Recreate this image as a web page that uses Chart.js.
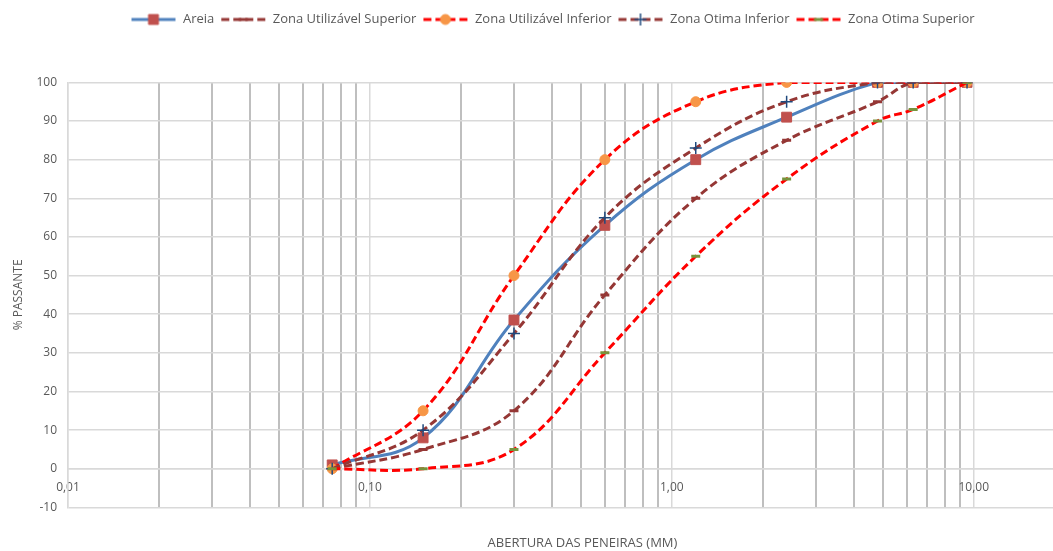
<!DOCTYPE html>
<html>
<head>
<meta charset="utf-8">
<script src="https://cdn.jsdelivr.net/npm/chart.js@4/dist/chart.umd.min.js"></script>
<style>
  html, body { margin: 0; padding: 0; background: #fff; }
  #wrap { width: 1053px; height: 551px; }
</style>
</head>
<body>
<div id="wrap"><canvas id="grafico"></canvas></div>
<script>
// aberturas das peneiras (mm)
const aberturas = [0.075, 0.15, 0.3, 0.6, 1.2, 2.4, 4.8, 6.3, 9.5];

// % passante
const areia = [1, 8, 38.5, 63, 80, 91, 100, 100, 100];
const zonaUtilSuperior = [0, 5, 15, 45, 70, 85, 95, 100, 100];
const zonaUtilInferior = [0, 15, 50, 80, 95, 100, 100, 100, 100];
const zonaOtimaInferior = [0, 10, 35, 65, 83, 95, 100, 100, 100];
const zonaOtimaSuperior = [0, 0, 5, 30, 55, 75, 90, 93, 100];

const nomes = ['Areia', 'Zona Utilizável Superior', 'Zona Utilizável Inferior', 'Zona Otima Inferior', 'Zona Otima Superior'];

// ticks do eixo x (log), só as décadas têm rótulo
const decadas = [0.01, 0.1, 1, 10];
const yTicks = [-10, 0, 10, 20, 30, 40, 50, 60, 70, 80, 90, 100];

const AZUL = '#4F81BD';
const VERMELHO_ESC = '#C0504D';
const MARROM = '#953735';
const VERMELHO = '#FF0000';
const LARANJA = '#F79646';
const AZUL_ESC = '#1F497D';
const VERDE = '#77933C';
const CINZA = '#595959';
const FONTE = 'Open Sans';

function pontos(vals) {
  return aberturas.map((x, i) => ({ x: x, y: vals[i] }));
}

const estilos = [
  { data: areia, line: AZUL, dash: [], width: 3, ps: 'rect', pr: 7, pc: VERMELHO_ESC, pw: 1 },
  { data: zonaUtilSuperior, line: MARROM, dash: [8, 4], width: 3, ps: 'line', pr: 4.5, pc: MARROM, pw: 3 },
  { data: zonaUtilInferior, line: VERMELHO, dash: [8, 4], width: 3, ps: 'circle', pr: 5, pc: LARANJA, pw: 1 },
  { data: zonaOtimaInferior, line: MARROM, dash: [8, 4], width: 3, ps: 'cross', pr: 6, pc: AZUL_ESC, pw: 1.5 },
  { data: zonaOtimaSuperior, line: VERMELHO, dash: [8, 4], width: 3, ps: 'line', pr: 4.5, pc: VERDE, pw: 3 }
];

// símbolo da legenda: linha tracejada + marcador
function simbolo(e) {
  const c = document.createElement('canvas');
  c.width = 46; c.height = 14;
  const ctx = c.getContext('2d');
  ctx.strokeStyle = e.line;
  ctx.lineWidth = e.width;
  ctx.setLineDash(e.dash);
  ctx.beginPath();
  ctx.moveTo(1, 7); ctx.lineTo(45, 7);
  ctx.stroke();
  ctx.setLineDash([]);
  ctx.fillStyle = e.pc;
  ctx.strokeStyle = e.pc;
  ctx.lineWidth = e.pw;
  Chart.helpers.drawPoint(ctx, { pointStyle: e.ps, radius: e.pr, borderWidth: e.pw, rotation: 0 }, 23, 7);
  return c;
}

const imagens = estilos.map(simbolo);

const datasets = estilos.map((e, i) => ({
  label: nomes[i],
  data: pontos(e.data),
  borderColor: e.line,
  borderWidth: e.width,
  borderDash: e.dash,
  tension: 0.4,
  fill: false,
  pointStyle: e.ps,
  pointRadius: e.pr,
  pointHoverRadius: e.pr,
  pointBackgroundColor: e.pc,
  pointBorderColor: e.pc,
  pointBorderWidth: e.pw,
  order: -i
}));

// ticks do eixo x: 1..9 de cada década até 10
const xTicks = [];
for (let d = 0.01; d < 10; d *= 10) {
  for (let m = 1; m <= 9; m++) xTicks.push(+(m * d).toPrecision(3));
}
xTicks.push(10);

function ehDecada(v) {
  return decadas.some(d => Math.abs(d - v) < 1e-9);
}

// o gráfico original era mais largo (recortado à direita): desloca legenda e título
const deslocar = {
  id: 'deslocar',
  afterLayout(chart) {
    chart.legend.left += 26;
    chart.legend.right += 26;
    chart.titleBlock.left += 56;
    chart.titleBlock.right += 56;
  }
};

new Chart(document.getElementById('grafico'), {
  type: 'line',
  data: { datasets: datasets },
  plugins: [deslocar],
  options: {
    responsive: true,
    maintainAspectRatio: false,
    animation: false,
    layout: { autoPadding: false, padding: { left: 0, right: 0, top: 7, bottom: 0 } },
    plugins: {
      legend: {
        position: 'top',
        labels: {
          color: CINZA,
          font: { family: FONTE, size: 13 },
          usePointStyle: true,
          pointStyleWidth: 46,
          padding: 6,
          generateLabels: (chart) => nomes.map((n, i) => ({
            text: n,
            pointStyle: imagens[i],
            fontColor: CINZA,
            datasetIndex: i,
            hidden: false,
            lineWidth: 0,
            strokeStyle: 'rgba(0,0,0,0)',
            fillStyle: 'rgba(0,0,0,0)'
          }))
        }
      },
      subtitle: {
        display: true,
        text: ' ',
        position: 'top',
        weight: 500,
        padding: { top: 10, bottom: 22 },
        font: { size: 12 }
      },
      title: {
        display: true,
        text: 'ABERTURA DAS PENEIRAS (MM)',
        position: 'bottom',
        color: CINZA,
        font: { family: FONTE, size: 13, weight: 'normal' },
        padding: { top: 28, bottom: 0 }
      },
      tooltip: { enabled: false }
    },
    scales: {
      x: {
        type: 'logarithmic',
        position: { y: 0 },
        min: 0.01,
        max: 18.3,
        afterBuildTicks: (scale) => {
          scale.ticks = xTicks.map(v => ({ value: v, major: ehDecada(v) }));
        },
        afterFit: (scale) => {
          scale.paddingLeft = 0;
          scale.paddingRight = 0;
        },
        ticks: {
          autoSkip: false,
          maxRotation: 0,
          color: CINZA,
          padding: 12,
          font: { family: FONTE, size: 12 },
          callback: (v) => ehDecada(v) ? v.toFixed(2).replace('.', ',') : ''
        },
        grid: {
          drawTicks: false,
          color: (ctx) => ehDecada(ctx.tick.value) ? '#D9D9D9' : '#BFBFBF',
          lineWidth: (ctx) => ehDecada(ctx.tick.value) ? 1.5 : 2
        },
        border: { color: '#D9D9D9', width: 1.5 }
      },
      y: {
        min: -10,
        max: 100,
        afterBuildTicks: (scale) => {
          scale.ticks = yTicks.map(v => ({ value: v }));
        },
        afterFit: (scale) => {
          scale.width = 68;
        },
        ticks: {
          color: CINZA,
          padding: 11,
          font: { family: FONTE, size: 12 }
        },
        grid: { drawTicks: false, color: '#D9D9D9', lineWidth: 1.5 },
        border: { color: '#D9D9D9', width: 1.5 },
        title: {
          display: true,
          text: '% PASSANTE',
          color: CINZA,
          font: { family: FONTE, size: 12 },
          padding: { top: 11, bottom: 4 }
        }
      }
    }
  }
});
</script>
</body>
</html>
